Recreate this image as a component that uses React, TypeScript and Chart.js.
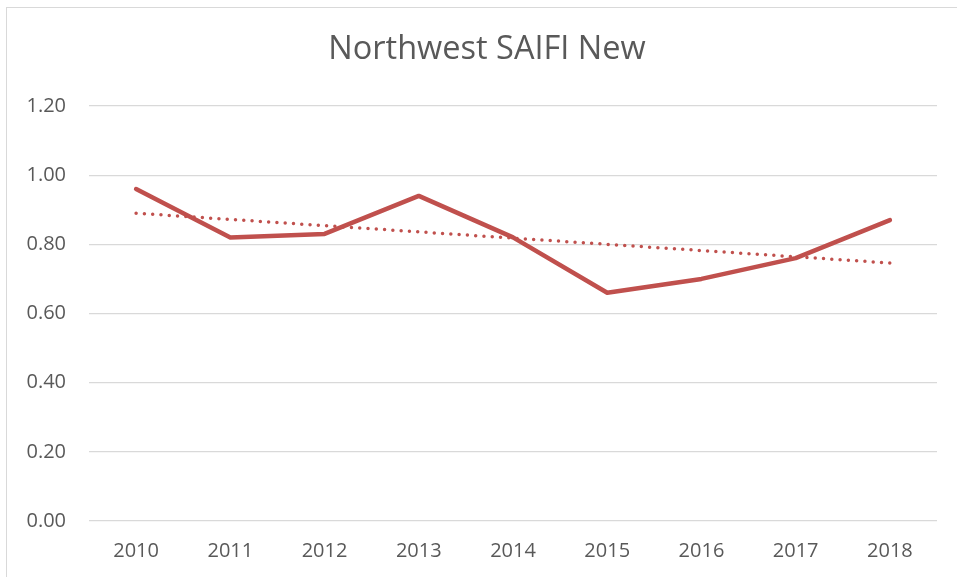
import React, { useEffect, useRef } from "react";
import { Chart, registerables } from "chart.js";

Chart.register(...registerables);

const categories = ["2010", "2011", "2012", "2013", "2014", "2015", "2016", "2017", "2018"];
const saifiValues = [0.96, 0.82, 0.83, 0.94, 0.82, 0.66, 0.70, 0.76, 0.87];
const trendValues = [0.89, 0.872, 0.854, 0.836, 0.818, 0.80, 0.782, 0.764, 0.746];
const yTicks = [0, 0.2, 0.4, 0.6, 0.8, 1.0, 1.2];
const titleText = "Northwest SAIFI New";

const W = 957;
const H = 577;
const FONT = "'Open Sans', 'Noto Sans', sans-serif";
const TEXT = "#595959";
const RED = "#C0504D";
const GRID = "#d9d9d9";

const titlePlugin = {
  id: "centeredTitle",
  afterDraw(chart: any) {
    const ctx = chart.ctx;
    ctx.save();
    ctx.fillStyle = TEXT;
    ctx.font = `normal 32.5px ${FONT}`;
    ctx.textAlign = "center";
    ctx.textBaseline = "middle";
    ctx.fillText(titleText, 487, 50);
    ctx.restore();
  },
};

export default function App() {
  const ref = useRef<HTMLCanvasElement | null>(null);

  useEffect(() => {
    if (!ref.current) return;
    const chart = new Chart(ref.current, {
      type: "line",
      data: {
        labels: categories,
        datasets: [
          {
            label: "SAIFI",
            data: saifiValues,
            borderColor: RED,
            backgroundColor: RED,
            borderWidth: 4.5,
            pointRadius: 0,
            tension: 0,
            borderCapStyle: "round",
            borderJoinStyle: "round",
            order: 2,
          },
          {
            label: "Linear (SAIFI)",
            data: trendValues,
            borderColor: RED,
            backgroundColor: RED,
            borderWidth: 3.5,
            borderDash: [0, 8.3],
            borderCapStyle: "round",
            pointRadius: 0,
            tension: 0,
            order: 1,
          },
        ],
      },
      plugins: [titlePlugin],
      options: {
        responsive: false,
        animation: false,
        devicePixelRatio: 1,
        layout: { padding: { left: 0, right: W - 937, top: 106, bottom: 0 } },
        plugins: {
          legend: { display: false },
          tooltip: { enabled: false },
          title: { display: false },
        },
        scales: {
          x: {
            offset: true,
            grid: { display: false, drawTicks: false },
            border: { display: false },
            ticks: {
              color: TEXT,
              font: { family: FONT, size: 20, lineHeight: 1.2 },
              padding: 18,
              maxRotation: 0,
            },
            afterFit: (s: any) => {
              s.height = H - 521;
            },
          },
          y: {
            min: 0,
            max: 1.2,
            afterBuildTicks: (s: any) => {
              s.ticks = yTicks.map((v) => ({ value: v }));
            },
            grid: { color: GRID, lineWidth: 1.3, drawTicks: false },
            border: { display: false },
            ticks: {
              color: TEXT,
              font: { family: FONT, size: 20, lineHeight: 1.2 },
              padding: 23,
              callback: (v: any) => Number(v).toFixed(2),
            },
            afterFit: (s: any) => {
              s.width = 89;
            },
          },
        },
      },
    });
    return () => chart.destroy();
  }, []);

  return (
    <div style={{ position: "fixed", left: 0, top: 0, width: W, height: H, overflow: "hidden", background: "#fff" }}>
      <div
        style={{
          position: "absolute",
          left: 6,
          top: 7,
          width: 1100,
          height: 800,
          border: `1px solid ${GRID}`,
          boxSizing: "border-box",
        }}
      />
      <canvas
        ref={ref}
        width={W}
        height={H}
        style={{ position: "absolute", left: 0, top: 0, width: W, height: H }}
      />
    </div>
  );
}
